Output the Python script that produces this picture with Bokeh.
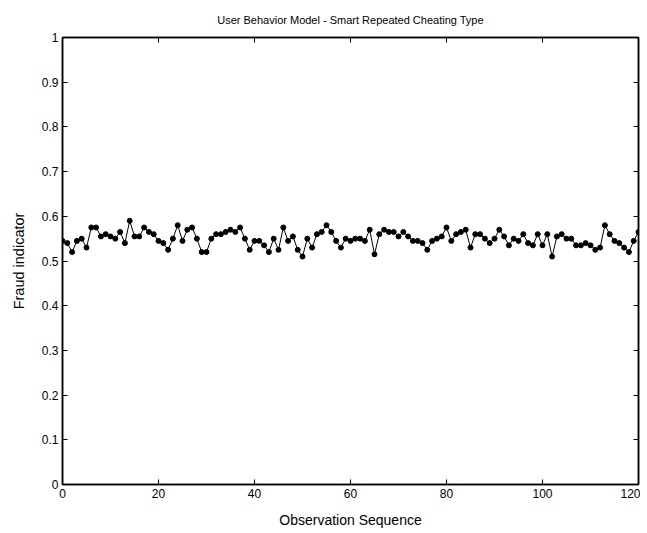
from bokeh.plotting import figure
from bokeh.models import FixedTicker, LinearAxis, Range1d, CustomJSTickFormatter
from bokeh.embed import file_html
from bokeh.resources import INLINE

title_text = "User Behavior Model - Smart Repeated Cheating Type"
x_label = "Observation Sequence"
y_label = "Fraud indicator"

observation = list(range(121))
fraud = [
    0.545, 0.54, 0.52, 0.545, 0.55, 0.53, 0.575, 0.575, 0.555, 0.56,
    0.555, 0.55, 0.565, 0.54, 0.59, 0.555, 0.555, 0.575, 0.565, 0.56,
    0.545, 0.54, 0.525, 0.55, 0.58, 0.545, 0.57, 0.575, 0.55, 0.52,
    0.52, 0.55, 0.56, 0.56, 0.565, 0.57, 0.565, 0.575, 0.55, 0.525,
    0.545, 0.545, 0.535, 0.52, 0.55, 0.525, 0.575, 0.545, 0.555, 0.525,
    0.51, 0.55, 0.53, 0.56, 0.565, 0.58, 0.565, 0.545, 0.53, 0.55,
    0.545, 0.55, 0.55, 0.545, 0.57, 0.515, 0.56, 0.57, 0.565, 0.565,
    0.555, 0.565, 0.555, 0.545, 0.545, 0.54, 0.525, 0.545, 0.55, 0.555,
    0.575, 0.545, 0.56, 0.565, 0.57, 0.53, 0.56, 0.56, 0.55, 0.54,
    0.55, 0.57, 0.555, 0.535, 0.55, 0.545, 0.56, 0.54, 0.535, 0.56,
    0.535, 0.56, 0.51, 0.555, 0.56, 0.55, 0.55, 0.535, 0.535, 0.54,
    0.535, 0.525, 0.53, 0.58, 0.56, 0.545, 0.54, 0.53, 0.52, 0.545,
    0.565,
]
x_ticks = [0, 20, 40, 60, 80, 100, 120]
y_ticks = [0, 0.1, 0.2, 0.3, 0.4, 0.5, 0.6, 0.7, 0.8, 0.9, 1]
y_tick_labels = {0: "0", 0.1: "0.1", 0.2: "0.2", 0.3: "0.3", 0.4: "0.4", 0.5: "0.5",
                 0.6: "0.6", 0.7: "0.7", 0.8: "0.8", 0.9: "0.9", 1: "1"}

FONT = "Liberation Sans"

p = figure(width=640, height=530, output_backend="svg", toolbar_location=None,
           x_range=Range1d(0, 120), y_range=Range1d(0, 1),
           min_border_left=62, min_border_right=2, min_border_top=36, min_border_bottom=44)
p.title.text = title_text
p.title.align = "center"
p.title.text_font = FONT
p.title.text_font_size = "11px"
p.title.text_font_style = "normal"
p.title.text_color = "black"
p.title.standoff = 23

p.xgrid.visible = False
p.ygrid.visible = False
p.outline_line_color = "black"
p.outline_line_width = 1.5
p.background_fill_color = "white"
p.border_fill_color = "white"

for ax in p.xaxis:
    ax.ticker = FixedTicker(ticks=x_ticks)
    ax.axis_label = x_label
for ax in p.yaxis:
    ax.ticker = FixedTicker(ticks=y_ticks)
    ax.axis_label = y_label
    ax.major_label_overrides = y_tick_labels

blank = "return ''"
top = LinearAxis(ticker=FixedTicker(ticks=x_ticks), formatter=CustomJSTickFormatter(code=blank))
right = LinearAxis(ticker=FixedTicker(ticks=y_ticks), formatter=CustomJSTickFormatter(code=blank))
p.add_layout(top, "above")
p.add_layout(right, "right")

for ax in list(p.xaxis) + list(p.yaxis):
    ax.major_tick_in = 5
    ax.major_tick_out = 0
    ax.minor_tick_in = 0
    ax.minor_tick_out = 0
    ax.axis_line_color = "black"
    ax.axis_line_width = 1.5
    ax.major_tick_line_color = "black"
    ax.major_label_text_font = FONT
    ax.major_label_text_font_size = "12px"
    ax.major_label_text_color = "black"
    ax.axis_label_text_font = FONT
    ax.axis_label_text_font_style = "normal"
    ax.axis_label_text_color = "black"
    ax.major_label_standoff = 4

for ax in p.xaxis:
    ax.axis_label_text_font_size = "14px"
    ax.axis_label_standoff = 11
for ax in p.yaxis:
    ax.axis_label_text_font_size = "14.5px"
    ax.axis_label_standoff = 12

for ax in (top, right):
    ax.major_label_standoff = 0
    ax.axis_label_standoff = 0
    ax.major_label_text_color = None

p.line(observation, fraud, line_color="black", line_width=1)
p.scatter(observation, fraud, size=5, fill_color="black", line_color="black")

open("out.html", "w").write(file_html(p, INLINE))
